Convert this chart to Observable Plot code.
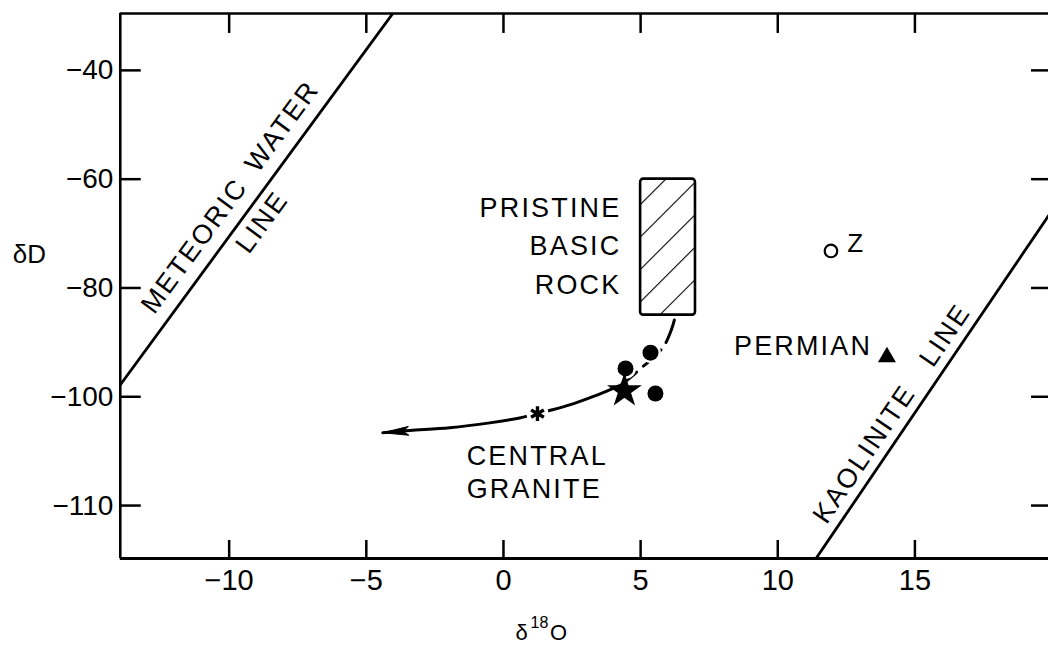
<!DOCTYPE html>
<html>
<head>
<meta charset="utf-8">
<script src="https://cdn.jsdelivr.net/npm/d3@7"></script>
<script src="https://cdn.jsdelivr.net/npm/@observablehq/plot@0.6"></script>
<style>
  html, body { margin: 0; padding: 0; background: #fff; overflow: hidden; }
  g[aria-description="label"] text { letter-spacing: 2.2px; }
</style>
</head>
<body>
<div id="chart"></div>
<script>
// ---------- data ----------
const xTicks = [-10, -5, 0, 5, 10, 15];
const xTickLabels = ["−10", "−5", "0", "5", "10", "15"];
// the fifth y tick is printed "-110" in the original at an equal step
const yTicks = [-40, -60, -80, -100, -120];
const yTickLabels = ["−40", "−60", "−80", "−100", "−110"];

const meteoricX = [-14, -4];
const meteoricY = [-98.0, -29.3];
const kaoliniteX = [11.4, 19.9];
const kaoliniteY = [-129.7, -66.5];

const boxX = [5, 7];
const boxY = [-85, -60];

const graniteX = [5.36, 4.45, 5.54];
const graniteY = [-91.9, -94.8, -99.4];
const starX = [4.41];
const starY = [-98.9];
const asteriskX = [1.24];
const asteriskY = [-103.1];
const zX = [11.94];
const zY = [-73.2];
const permianX = [13.98];
const permianY = [-92.7];

const trendX = [6.23, 6.12, 5.87, 5.50, 5.07, 4.67, 4.30, 3.79, 3.14, 2.41, 1.79, 1.24, 0.59, -0.50, -1.96, -3.41, -4.40];
const trendY = [-85.9, -87.7, -90.5, -92.7, -94.5, -96.3, -97.8, -98.9, -100.2, -101.5, -102.4, -103.1, -103.9, -104.8, -105.7, -106.2, -106.6];
const trendSplit = 6; // dashed before this index, solid after

// ---------- layout ----------
const W = 1050, H = 647, mL = 120, mR = 0, mT = 13, mB = 88;
const frameW = W - mL - mR, frameH = H - mT - mB;
const font = "'Liberation Sans', Arial, sans-serif";
const xDomain = [-13.97, 19.87];
const yDomain = [-129.72, -29.54];

const zip = (xs, ys) => xs.map((x, i) => ({x, y: ys[i]}));
const trend = zip(trendX, trendY);
const dashed = trend.slice(0, trendSplit + 1);
const solid = trend.slice(trendSplit);
const arrowEnd = [trend[trend.length - 1]];

const arrowSymbol = {
  draw(ctx) {
    ctx.moveTo(0, 0);
    ctx.lineTo(26, -4.5);
    ctx.lineTo(20, 0);
    ctx.lineTo(26, 4.5);
    ctx.closePath();
  }
};

const labelOpts = {fontFamily: font, fill: "black", ariaDescription: "label"};
const titleOpts = {fontFamily: font, fill: "black", textAnchor: "middle", lineAnchor: "middle"};

const chart = Plot.plot({
  width: W, height: H,
  marginLeft: mL, marginRight: mR, marginTop: mT, marginBottom: mB,
  x: {domain: xDomain, axis: null},
  y: {domain: yDomain, axis: null},
  style: {background: "#fff", color: "black"},
  marks: [
    // frame (left, top, bottom)
    Plot.ruleX([xDomain[0]], {stroke: "black", strokeWidth: 2.6}),
    Plot.ruleY([yDomain[1]], {stroke: "black", strokeWidth: 2.6}),
    Plot.ruleY([yDomain[0]], {stroke: "black", strokeWidth: 3}),
    // inward ticks
    Plot.tickX(xTicks, {x: d => d, insetTop: frameH - 18, stroke: "black", strokeWidth: 2.5}),
    Plot.tickX(xTicks, {x: d => d, insetBottom: frameH - 20, stroke: "black", strokeWidth: 2.5}),
    Plot.tickY(yTicks, {y: d => d, insetRight: frameW - 21, stroke: "black", strokeWidth: 2.5}),
    Plot.tickY(yTicks, {y: d => d, insetLeft: frameW - 17, stroke: "black", strokeWidth: 2.5}),
    // tick labels
    Plot.text(xTicks, {x: d => d, text: (d, i) => xTickLabels[i], frameAnchor: "bottom", lineAnchor: "top", dy: 11, fontSize: 29, fontFamily: font, fill: "black"}),
    Plot.text(yTicks, {y: d => d, text: (d, i) => yTickLabels[i], frameAnchor: "left", textAnchor: "end", dx: -7, fontSize: 28, fontFamily: font, fill: "black"}),
    // axis titles
    Plot.text(["δD"], {text: d => d, frameAnchor: "left", dx: -91, dy: -31, fontSize: 26, ...titleOpts}),
    Plot.text(["δ"], {text: d => d, frameAnchor: "bottom", dx: -63, dy: 75, fontSize: 22, ...titleOpts}),
    Plot.text(["18"], {text: d => d, frameAnchor: "bottom", dx: -45, dy: 65, fontSize: 16, ...titleOpts}),
    Plot.text(["O"], {text: d => d, frameAnchor: "bottom", dx: -26, dy: 75, fontSize: 22, ...titleOpts}),
    // reference lines
    Plot.line(zip(meteoricX, meteoricY), {x: "x", y: "y", stroke: "black", strokeWidth: 2.8, clip: true}),
    Plot.line(zip(kaoliniteX, kaoliniteY), {x: "x", y: "y", stroke: "black", strokeWidth: 2.8, clip: true}),
    // pristine basic rock box
    Plot.rect([{x1: boxX[0], x2: boxX[1], y1: boxY[0], y2: boxY[1]}], {x1: "x1", x2: "x2", y1: "y1", y2: "y2", fill: "url(#hatch)", stroke: "black", strokeWidth: 2.6, rx: 3}),
    // trend curve
    Plot.line(dashed, {x: "x", y: "y", curve: "catmull-rom", stroke: "black", strokeWidth: 3, strokeDasharray: "24,9"}),
    Plot.line(solid, {x: "x", y: "y", curve: "catmull-rom", stroke: "black", strokeWidth: 3}),
    Plot.dot(arrowEnd, {x: "x", y: "y", symbol: arrowSymbol, fill: "black", stroke: "black", strokeWidth: 1, rotate: -4}),
    // symbols
    Plot.dot(zip(asteriskX, asteriskY), {x: "x", y: "y", r: 11, fill: "white", stroke: "none"}),
    Plot.dot(zip(asteriskX, asteriskY), {x: "x", y: "y", symbol: "asterisk", r: 7, stroke: "black", strokeWidth: 3.4}),
    Plot.dot(zip(graniteX, graniteY), {x: "x", y: "y", r: 8, fill: "black", stroke: "white", strokeWidth: 5, paintOrder: "stroke"}),
    Plot.dot(zip(starX, starY), {x: "x", y: "y", symbol: "star", r: 9.5, fill: "black", stroke: "black", strokeWidth: 1.5}),
    Plot.dot(zip(zX, zY), {x: "x", y: "y", r: 6.3, fill: "white", stroke: "black", strokeWidth: 2.2}),
    Plot.dot(zip(permianX, permianY), {x: "x", y: "y", symbol: "triangle", r: 6.7, fill: "black"}),
    // labels
    Plot.text([{x: 4.30, y: -71.7, t: "PRISTINE\nBASIC\nROCK"}], {x: "x", y: "y", text: "t", textAnchor: "end", lineHeight: 1.43, fontSize: 27, ...labelOpts}),
    Plot.text([{x: -1.34, y: -113.7, t: "CENTRAL\nGRANITE"}], {x: "x", y: "y", text: "t", textAnchor: "start", lineHeight: 1.22, fontSize: 27, ...labelOpts}),
    Plot.text([{x: 13.44, y: -90.8, t: "PERMIAN"}], {x: "x", y: "y", text: "t", textAnchor: "end", fontSize: 27, ...labelOpts}),
    Plot.text([{x: 12.53, y: -71.9, t: "Z"}], {x: "x", y: "y", text: "t", textAnchor: "start", fontSize: 26, ...labelOpts}),
    Plot.text([{x: -9.96, y: -63.3, t: "METEORIC\u2002WATER"}], {x: "x", y: "y", text: "t", rotate: -53.7, fontSize: 27, ...labelOpts}),
    Plot.text([{x: -8.80, y: -67.9, t: "LINE"}], {x: "x", y: "y", text: "t", rotate: -53.7, fontSize: 27, ...labelOpts}),
    Plot.text([{x: 14.16, y: -103.1, t: "KAOLINITE\u2003LINE"}], {x: "x", y: "y", text: "t", rotate: -55.8, fontSize: 27, ...labelOpts})
  ]
});

// hatch pattern for the box
d3.select(chart).insert("defs", ":first-child").html(
  '<pattern id="hatch" patternUnits="userSpaceOnUse" width="23" height="23" patternTransform="rotate(45)">' +
  '<line x1="0" y1="0" x2="0" y2="23" stroke="black" stroke-width="2.2"/></pattern>'
);
d3.select(chart).selectAll('g[aria-description="label"] text').style("letter-spacing", "2.2px");

document.getElementById("chart").appendChild(chart);
</script>
</body>
</html>
